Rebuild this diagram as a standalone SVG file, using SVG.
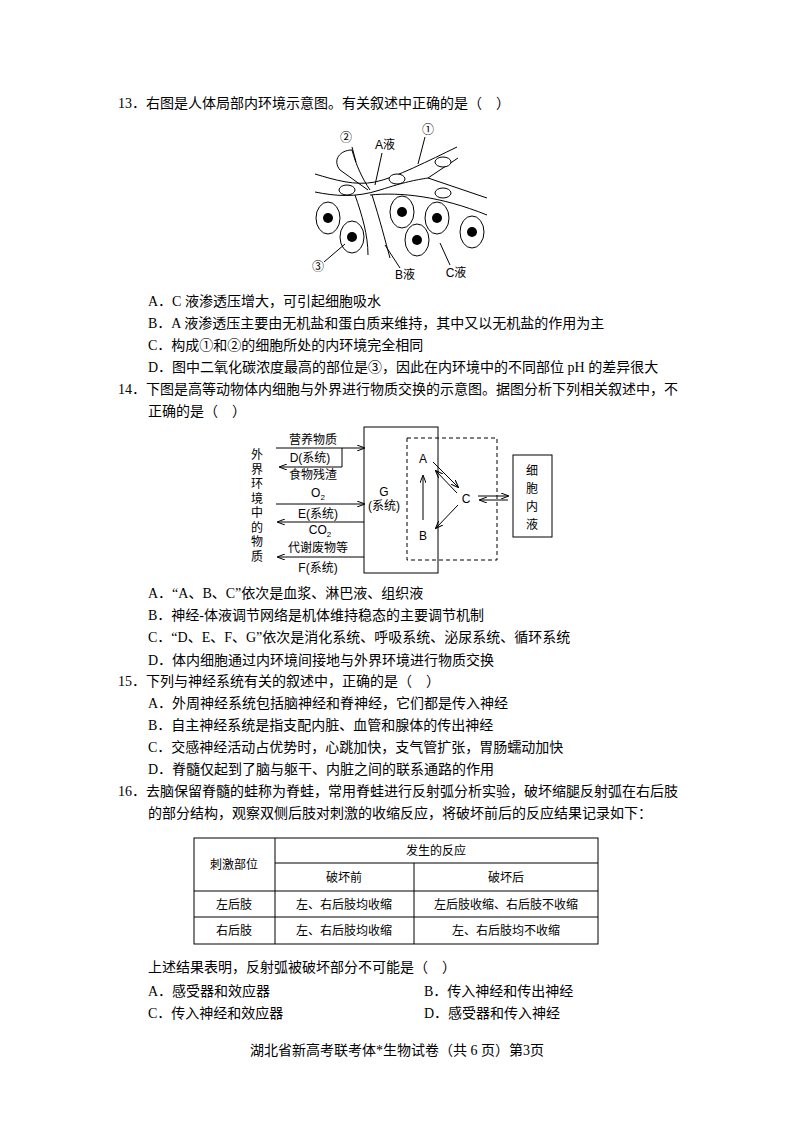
<svg xmlns="http://www.w3.org/2000/svg" width="794" height="1122" viewBox="0 0 794 1122">
<defs>
<style>
.t{font-family:"Liberation Serif","Noto Sans CJK SC",serif;font-size:14px;fill:#000}
.s{font-family:"Liberation Sans","Noto Sans CJK SC",sans-serif;font-size:12px;fill:#000}
.l{fill:none;stroke:#000;stroke-width:1}
.c{fill:#fff;stroke:#000;stroke-width:1}
</style>
<marker id="ah" markerWidth="8" markerHeight="6" refX="7" refY="3" orient="auto" markerUnits="userSpaceOnUse"><path d="M0,0 L8,3 L0,6" fill="none" stroke="#000"/></marker>
</defs>
<rect width="794" height="1122" fill="#fff"/>
<g id="text">
<text class="t" x="118" y="108">13．右图是人体局部内环境示意图。有关叙述中正确的是（　）</text>
<text class="t" x="148" y="306">A．C 液渗透压增大，可引起细胞吸水</text>
<text class="t" x="148" y="328">B．A 液渗透压主要由无机盐和蛋白质来维持，其中又以无机盐的作用为主</text>
<text class="t" x="148" y="350">C．构成①和②的细胞所处的内环境完全相同</text>
<text class="t" x="148" y="372">D．图中二氧化碳浓度最高的部位是③，因此在内环境中的不同部位 pH 的差异很大</text>
<text class="t" x="118" y="394">14．下图是高等动物体内细胞与外界进行物质交换的示意图。据图分析下列相关叙述中，不</text>
<text class="t" x="148" y="416">正确的是（　）</text>
<text class="t" x="148" y="598">A．“A、B、C”依次是血浆、淋巴液、组织液</text>
<text class="t" x="148" y="620">B．神经-体液调节网络是机体维持稳态的主要调节机制</text>
<text class="t" x="148" y="642">C．“D、E、F、G”依次是消化系统、呼吸系统、泌尿系统、循环系统</text>
<text class="t" x="148" y="665">D．体内细胞通过内环境间接地与外界环境进行物质交换</text>
<text class="t" x="118" y="686">15．下列与神经系统有关的叙述中，正确的是（　）</text>
<text class="t" x="148" y="708">A．外周神经系统包括脑神经和脊神经，它们都是传入神经</text>
<text class="t" x="148" y="730">B．自主神经系统是指支配内脏、血管和腺体的传出神经</text>
<text class="t" x="148" y="752">C．交感神经活动占优势时，心跳加快，支气管扩张，胃肠蠕动加快</text>
<text class="t" x="148" y="774">D．脊髓仅起到了脑与躯干、内脏之间的联系通路的作用</text>
<text class="t" x="118" y="796">16．去脑保留脊髓的蛙称为脊蛙，常用脊蛙进行反射弧分析实验，破坏缩腿反射弧在右后肢</text>
<text class="t" x="148" y="818">的部分结构，观察双侧后肢对刺激的收缩反应，将破坏前后的反应结果记录如下：</text>
<text class="t" x="148" y="972">上述结果表明，反射弧被破坏部分不可能是（　）</text>
<text class="t" x="148" y="996">A．感受器和效应器</text>
<text class="t" x="424" y="996">B．传入神经和传出神经</text>
<text class="t" x="148" y="1018">C．传入神经和效应器</text>
<text class="t" x="424" y="1018">D．感受器和传入神经</text>
<text class="t" x="397" y="1055" text-anchor="middle">湖北省新高考联考体*生物试卷（共 6 页）第3页</text>
</g>
<g id="fig1">
<path class="l" d="M315,174 C335,180 355,186 375,182 S430,160 457,147"/>
<path class="l" d="M315,192 C335,196 355,198 380,190 S415,180 428,178 L487,198"/>
<path class="l" d="M428,178 L458,158"/>
<path class="l" d="M370,195 C400,192 440,196 487,215"/>
<path class="l" d="M352,150 C340,150 332,160 340,170 L368,190"/>
<path class="l" d="M352,150 C356,165 362,178 370,190"/>
<path class="l" d="M355,195 C362,215 368,235 368,255"/>
<path class="l" d="M372,195 C380,220 385,240 390,258"/>
<ellipse class="c" cx="347" cy="190" rx="8" ry="5"/>
<ellipse class="c" cx="397" cy="179" rx="8" ry="5"/>
<ellipse class="c" cx="443" cy="162" rx="8" ry="5"/>
<ellipse class="c" cx="443" cy="193" rx="8" ry="5"/>
<g id="cells">
<ellipse class="c" cx="328" cy="218" rx="12" ry="16"/><circle cx="328" cy="218" r="5"/>
<ellipse class="c" cx="352" cy="237" rx="12" ry="16"/><circle cx="352" cy="237" r="5"/>
<ellipse class="c" cx="402" cy="212" rx="12" ry="16"/><circle cx="402" cy="212" r="5"/>
<ellipse class="c" cx="417" cy="240" rx="12" ry="16"/><circle cx="417" cy="240" r="5"/>
<ellipse class="c" cx="437" cy="218" rx="12" ry="16"/><circle cx="437" cy="218" r="5"/>
<ellipse class="c" cx="472" cy="232" rx="12" ry="16"/><circle cx="472" cy="232" r="5"/>
</g>
<text class="s" x="346" y="142" text-anchor="middle" font-size="15">②</text>
<text class="s" x="385" y="149" text-anchor="middle" font-size="14">A液</text>
<text class="s" x="428" y="134" text-anchor="middle" font-size="15">①</text>
<text class="s" x="318" y="271" text-anchor="middle" font-size="15">③</text>
<text class="s" x="405" y="279" text-anchor="middle" font-size="14">B液</text>
<text class="s" x="456" y="277" text-anchor="middle" font-size="14">C液</text>
<path class="l" d="M352,147 L356,162 M382,153 L375,185 M425,137 L418,164 M324,262 L345,244 M400,268 L385,245 M450,265 L440,243"/>
</g>
<g id="fig2">
<rect class="l" x="364" y="427" width="74" height="146"/>
<rect class="l" x="407" y="438" width="90" height="122" stroke-dasharray="4,3"/>
<rect class="l" x="513" y="455" width="39" height="82"/>
<text class="s" x="257" y="459" text-anchor="middle" font-size="14"><tspan x="257" dy="0">外</tspan><tspan x="257" dy="14.5">界</tspan><tspan x="257" dy="14.5">环</tspan><tspan x="257" dy="14.5">境</tspan><tspan x="257" dy="14.5">中</tspan><tspan x="257" dy="14.5">的</tspan><tspan x="257" dy="14.5">物</tspan><tspan x="257" dy="14.5">质</tspan></text>
<text class="s" x="532" y="475" text-anchor="middle" font-size="15"><tspan x="532" dy="0">细</tspan><tspan x="532" dy="18">胞</tspan><tspan x="532" dy="18">内</tspan><tspan x="532" dy="18">液</tspan></text>
<text class="s" x="313" y="444" text-anchor="middle">营养物质</text>
<text class="s" x="310" y="462" text-anchor="middle">D(系统)</text>
<text class="s" x="313" y="479" text-anchor="middle">食物残渣</text>
<text class="s" x="318" y="497" text-anchor="middle">O<tspan font-size="8" dy="3">2</tspan></text>
<text class="s" x="318" y="518" text-anchor="middle">E(系统)</text>
<text class="s" x="320" y="534" text-anchor="middle">CO<tspan font-size="8" dy="3">2</tspan></text>
<text class="s" x="318" y="552" text-anchor="middle">代谢废物等</text>
<text class="s" x="318" y="572" text-anchor="middle">F(系统)</text>
<text class="s" x="384" y="496" text-anchor="middle">G</text>
<text class="s" x="384" y="510" text-anchor="middle">(系统)</text>
<text class="s" x="423" y="463" text-anchor="middle" font-size="13">A</text>
<text class="s" x="423" y="540" text-anchor="middle" font-size="13">B</text>
<text class="s" x="466" y="503" text-anchor="middle" font-size="13">C</text>
</g>
<g id="connectors">
<path class="l" d="M276,448 L364,448" marker-end="url(#ah)"/>
<path class="l" d="M342,448 L342,467 L280,467" marker-end="url(#ah)"/>
<path class="l" d="M276,504 L364,504" marker-end="url(#ah)"/>
<path class="l" d="M364,522 L278,522" marker-end="url(#ah)"/>
<path class="l" d="M364,557 L278,557" marker-end="url(#ah)"/>
<path class="l" d="M423,520 L423,476" marker-end="url(#ah)"/>
<path class="l" d="M433,462 L458,487" marker-end="url(#ah)"/>
<path class="l" d="M457,493 L436,471" marker-end="url(#ah)"/>
<path class="l" d="M458,505 L436,528" marker-end="url(#ah)"/>
<path class="l" d="M478,496 L508,496" marker-end="url(#ah)"/>
<path class="l" d="M508,500 L480,500" marker-end="url(#ah)"/>
</g>
<g id="table">
<rect class="l" x="194" y="838" width="404" height="106"/>
<path class="l" d="M275,838 V944 M275,863 H598 M414,863 V944 M194,891 H598 M194,917 H598"/>
<text class="s" x="234" y="869" text-anchor="middle" font-size="13">刺激部位</text>
<text class="s" x="436" y="855" text-anchor="middle" font-size="13">发生的反应</text>
<text class="s" x="344" y="882" text-anchor="middle" font-size="13">破坏前</text>
<text class="s" x="506" y="882" text-anchor="middle" font-size="13">破坏后</text>
<text class="s" x="234" y="909" text-anchor="middle" font-size="13">左后肢</text>
<text class="s" x="344" y="909" text-anchor="middle" font-size="13">左、右后肢均收缩</text>
<text class="s" x="506" y="909" text-anchor="middle" font-size="13">左后肢收缩、右后肢不收缩</text>
<text class="s" x="234" y="935" text-anchor="middle" font-size="13">右后肢</text>
<text class="s" x="344" y="935" text-anchor="middle" font-size="13">左、右后肢均收缩</text>
<text class="s" x="506" y="935" text-anchor="middle" font-size="13">左、右后肢均不收缩</text>
</g>
</svg>
